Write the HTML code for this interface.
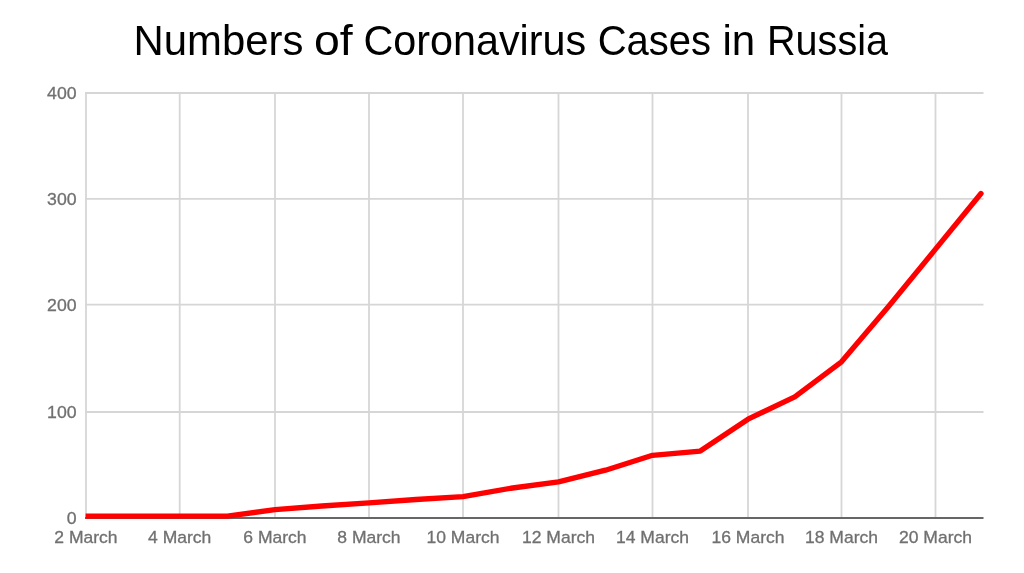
<!DOCTYPE html>
<html><head><meta charset="utf-8"><title>Numbers of Coronavirus Cases in Russia</title>
<style>
html,body{margin:0;padding:0;background:#fff;}
body{width:1024px;height:573px;overflow:hidden;}
svg{display:block;font-family:"Liberation Sans",Arial,sans-serif;}
</style></head>
<body>
<svg width="1024" height="573" viewBox="0 0 1024 573">
<rect width="1024" height="573" fill="#fff"/>
<text y="54.9" font-size="43" fill="#000"><tspan x="133.58" textLength="169.82" lengthAdjust="spacingAndGlyphs">Numbers</tspan> <tspan x="313.94" textLength="38.72" lengthAdjust="spacingAndGlyphs">of</tspan> <tspan x="363.48" textLength="222.68" lengthAdjust="spacingAndGlyphs">Coronavirus</tspan> <tspan x="597.74" textLength="113.39" lengthAdjust="spacingAndGlyphs">Cases</tspan> <tspan x="722.46" textLength="32.75" lengthAdjust="spacingAndGlyphs">in</tspan> <tspan x="767.04" textLength="120.94" lengthAdjust="spacingAndGlyphs">Russia</tspan></text>
<line x1="85.0" y1="93.00" x2="983.5" y2="93.00" stroke="#d6d6d6" stroke-width="1.8"/>
<line x1="85.0" y1="198.80" x2="983.5" y2="198.80" stroke="#d6d6d6" stroke-width="1.8"/>
<line x1="85.0" y1="304.70" x2="983.5" y2="304.70" stroke="#d6d6d6" stroke-width="1.8"/>
<line x1="85.0" y1="412.00" x2="983.5" y2="412.00" stroke="#d6d6d6" stroke-width="1.8"/>
<line x1="86.00" y1="92.10" x2="86.00" y2="518.00" stroke="#d6d6d6" stroke-width="1.8"/>
<line x1="179.70" y1="92.10" x2="179.70" y2="518.00" stroke="#d6d6d6" stroke-width="1.8"/>
<line x1="275.00" y1="92.10" x2="275.00" y2="518.00" stroke="#d6d6d6" stroke-width="1.8"/>
<line x1="369.00" y1="92.10" x2="369.00" y2="518.00" stroke="#d6d6d6" stroke-width="1.8"/>
<line x1="463.00" y1="92.10" x2="463.00" y2="518.00" stroke="#d6d6d6" stroke-width="1.8"/>
<line x1="558.50" y1="92.10" x2="558.50" y2="518.00" stroke="#d6d6d6" stroke-width="1.8"/>
<line x1="652.50" y1="92.10" x2="652.50" y2="518.00" stroke="#d6d6d6" stroke-width="1.8"/>
<line x1="748.00" y1="92.10" x2="748.00" y2="518.00" stroke="#d6d6d6" stroke-width="1.8"/>
<line x1="841.50" y1="92.10" x2="841.50" y2="518.00" stroke="#d6d6d6" stroke-width="1.8"/>
<line x1="935.50" y1="92.10" x2="935.50" y2="518.00" stroke="#d6d6d6" stroke-width="1.8"/>
<line x1="85.0" y1="518.0" x2="983.5" y2="518.0" stroke="#666666" stroke-width="2"/>
<text x="76.6" y="524.40" font-size="17" fill="#707070" stroke="#707070" stroke-width="0.3" text-anchor="end" textLength="9.85" lengthAdjust="spacingAndGlyphs">0</text>
<text x="76.6" y="418.40" font-size="17" fill="#707070" stroke="#707070" stroke-width="0.3" text-anchor="end" textLength="29.51" lengthAdjust="spacingAndGlyphs">100</text>
<text x="76.6" y="311.10" font-size="17" fill="#707070" stroke="#707070" stroke-width="0.3" text-anchor="end" textLength="29.51" lengthAdjust="spacingAndGlyphs">200</text>
<text x="76.6" y="205.20" font-size="17" fill="#707070" stroke="#707070" stroke-width="0.3" text-anchor="end" textLength="29.51" lengthAdjust="spacingAndGlyphs">300</text>
<text x="76.6" y="99.40" font-size="17" fill="#707070" stroke="#707070" stroke-width="0.3" text-anchor="end" textLength="29.51" lengthAdjust="spacingAndGlyphs">400</text>
<text x="86.00" y="543" font-size="17" fill="#707070" stroke="#707070" stroke-width="0.3" text-anchor="middle" textLength="63.26" lengthAdjust="spacingAndGlyphs">2 March</text>
<text x="179.70" y="543" font-size="17" fill="#707070" stroke="#707070" stroke-width="0.3" text-anchor="middle" textLength="63.26" lengthAdjust="spacingAndGlyphs">4 March</text>
<text x="275.00" y="543" font-size="17" fill="#707070" stroke="#707070" stroke-width="0.3" text-anchor="middle" textLength="63.26" lengthAdjust="spacingAndGlyphs">6 March</text>
<text x="369.00" y="543" font-size="17" fill="#707070" stroke="#707070" stroke-width="0.3" text-anchor="middle" textLength="63.26" lengthAdjust="spacingAndGlyphs">8 March</text>
<text x="463.00" y="543" font-size="17" fill="#707070" stroke="#707070" stroke-width="0.3" text-anchor="middle" textLength="73.00" lengthAdjust="spacingAndGlyphs">10 March</text>
<text x="558.50" y="543" font-size="17" fill="#707070" stroke="#707070" stroke-width="0.3" text-anchor="middle" textLength="73.00" lengthAdjust="spacingAndGlyphs">12 March</text>
<text x="652.50" y="543" font-size="17" fill="#707070" stroke="#707070" stroke-width="0.3" text-anchor="middle" textLength="73.00" lengthAdjust="spacingAndGlyphs">14 March</text>
<text x="748.00" y="543" font-size="17" fill="#707070" stroke="#707070" stroke-width="0.3" text-anchor="middle" textLength="73.00" lengthAdjust="spacingAndGlyphs">16 March</text>
<text x="841.50" y="543" font-size="17" fill="#707070" stroke="#707070" stroke-width="0.3" text-anchor="middle" textLength="73.00" lengthAdjust="spacingAndGlyphs">18 March</text>
<text x="935.50" y="543" font-size="17" fill="#707070" stroke="#707070" stroke-width="0.3" text-anchor="middle" textLength="73.00" lengthAdjust="spacingAndGlyphs">20 March</text>
<clipPath id="c"><rect x="85.6" y="0" width="938" height="573"/></clipPath>
<polyline clip-path="url(#c)" points="86.00,516.09 132.85,516.09 179.70,516.09 227.35,516.09 275.00,509.71 322.00,505.99 369.00,502.91 416.00,499.51 463.00,496.64 510.75,488.25 558.50,481.88 605.50,470.19 652.50,455.31 700.25,451.06 748.00,419.19 794.75,396.88 841.50,361.81 888.50,306.56 935.50,249.19 981.00,193.50" fill="none" stroke="#ff0000" stroke-width="5.3" stroke-linejoin="round" stroke-linecap="round"/>
</svg>
</body></html>
